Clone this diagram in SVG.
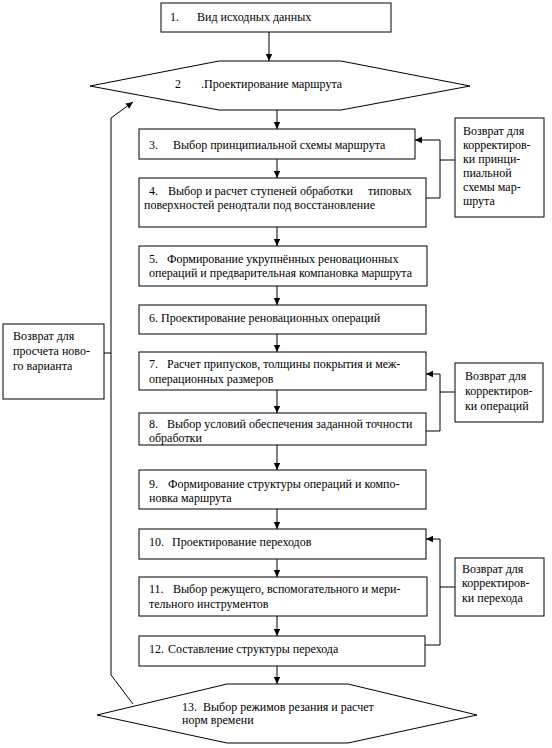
<svg xmlns="http://www.w3.org/2000/svg" width="552" height="748" viewBox="0 0 552 748">
<defs>
<marker id="ah" markerWidth="8" markerHeight="8" refX="7" refY="4" orient="auto" markerUnits="userSpaceOnUse">
<path d="M0,0.8 L7,4 L0,7.2 Z" fill="#000"/>
</marker>
<style>
.b{fill:#fff;stroke:#000;stroke-width:1}
.t{font-family:"Liberation Serif","Times New Roman",serif;font-size:12px;fill:#000}
.c{fill:none;stroke:#000;stroke-width:1}
.a{fill:none;stroke:#000;stroke-width:1;marker-end:url(#ah)}
</style>
</defs>
<rect width="552" height="748" fill="#fff"/>
<g id="connectors">
<line class="a" x1="269" y1="32" x2="269" y2="61"/>
<line class="a" x1="277" y1="110" x2="277" y2="129"/>
<line class="a" x1="277" y1="159" x2="277" y2="178"/>
<line class="a" x1="277" y1="227" x2="277" y2="246"/>
<line class="a" x1="277" y1="286" x2="277" y2="305"/>
<line class="a" x1="277" y1="334" x2="277" y2="352"/>
<line class="a" x1="277" y1="390" x2="277" y2="413"/>
<line class="a" x1="277" y1="445" x2="277" y2="470"/>
<line class="a" x1="277" y1="509" x2="277" y2="529"/>
<line class="a" x1="277" y1="559" x2="277" y2="577"/>
<line class="a" x1="277" y1="616" x2="277" y2="636"/>
<line class="a" x1="277" y1="666" x2="277" y2="684"/>
<polyline class="c" points="455,160 440,160"/>
<polyline class="c" points="426,198 440,198 440,140"/>
<line class="a" x1="440" y1="140" x2="415" y2="140"/>
<polyline class="c" points="455,392 440,392"/>
<polyline class="c" points="426,431 440,431 440,374"/>
<line class="a" x1="440" y1="374" x2="426" y2="374"/>
<polyline class="c" points="455,587 440,587"/>
<polyline class="c" points="425,645 440,645 440,539"/>
<line class="a" x1="440" y1="539" x2="426" y2="539"/>
<polyline class="c" points="104,353 111,353"/>
<polyline class="c" points="133,704 111,675 111,118"/>
<line class="a" x1="111" y1="118" x2="133" y2="102"/>
</g>
<g id="n1">
<rect class="b" x="161" y="3" width="230" height="29"/>
<text class="t" x="170" y="21">1.</text>
<text class="t" x="197" y="21">Вид исходных данных</text>
</g>
<g id="n2">
<polygon class="b" points="90,86 219,61 341,61 470,86 341,110 219,110"/>
<text class="t" x="175" y="88">2</text>
<text class="t" x="201" y="88">.Проектирование маршрута</text>
</g>
<g id="n3">
<rect class="b" x="139" y="129" width="276" height="30"/>
<text class="t" x="149" y="149">3.</text>
<text class="t" x="173" y="149">Выбор принципиальной схемы маршрута</text>
</g>
<g id="n4">
<rect class="b" x="139" y="178" width="287" height="49"/>
<text class="t" x="149" y="195">4.</text>
<text class="t" x="168" y="195">Выбор и расчет ступеней обработки</text>
<text class="t" x="368" y="195">типовых</text>
<text class="t" x="144" y="209">поверхностей ренодтали под восстановление</text>
</g>
<g id="n5">
<rect class="b" x="139" y="246" width="288" height="40"/>
<text class="t" x="149" y="263">5.</text>
<text class="t" x="167" y="263">Формирование укрупнённых реновационных</text>
<text class="t" x="149" y="277">операций и предварительная компановка маршрута</text>
</g>
<g id="n6">
<rect class="b" x="139" y="305" width="287" height="29"/>
<text class="t" x="149" y="322">6.  Проектирование реновационных операций</text>
</g>
<g id="n7">
<rect class="b" x="139" y="352" width="287" height="38"/>
<text class="t" x="149" y="368">7.</text>
<text class="t" x="167" y="368">Расчет припусков, толщины покрытия и меж-</text>
<text class="t" x="149" y="383">операционных размеров</text>
</g>
<g id="n8">
<rect class="b" x="139" y="413" width="287" height="32"/>
<text class="t" x="149" y="428">8.</text>
<text class="t" x="167" y="428">Выбор условий обеспечения заданной точности</text>
<text class="t" x="149" y="442">обработки</text>
</g>
<g id="n9">
<rect class="b" x="139" y="470" width="287" height="39"/>
<text class="t" x="149" y="488">9.</text>
<text class="t" x="168" y="488">Формирование структуры операций и компо-</text>
<text class="t" x="149" y="502">новка маршрута</text>
</g>
<g id="n10">
<rect class="b" x="139" y="529" width="287" height="30"/>
<text class="t" x="149" y="546">10.</text>
<text class="t" x="172" y="546">Проектирование переходов</text>
</g>
<g id="n11">
<rect class="b" x="139" y="577" width="288" height="39"/>
<text class="t" x="149" y="593">11.</text>
<text class="t" x="173" y="593">Выбор режущего, вспомогательного и мери-</text>
<text class="t" x="149" y="608">тельного инструментов</text>
</g>
<g id="n12">
<rect class="b" x="139" y="636" width="286" height="30"/>
<text class="t" x="149" y="653">12.</text>
<text class="t" x="168" y="653">Составление структуры перехода</text>
</g>
<g id="n13">
<polygon class="b" points="97,715 227,684 348,684 477,715 348,743 227,743"/>
<text class="t" x="182" y="711">13.</text>
<text class="t" x="203" y="711">Выбор режимов резания и расчет</text>
<text class="t" x="182" y="724">норм времени</text>
</g>
<g id="r1">
<rect class="b" x="455" y="118" width="89" height="99"/>
<text class="t" x="463" y="135">Возврат для</text>
<text class="t" x="463" y="149">корректиров-</text>
<text class="t" x="463" y="163">ки принци-</text>
<text class="t" x="463" y="177">пиальной</text>
<text class="t" x="463" y="191">схемы мар-</text>
<text class="t" x="463" y="205">шрута</text>
</g>
<g id="r2">
<rect class="b" x="455" y="363" width="88" height="59"/>
<text class="t" x="465" y="380">Возврат для</text>
<text class="t" x="465" y="395">корректиров-</text>
<text class="t" x="465" y="410">ки операций</text>
</g>
<g id="r3">
<rect class="b" x="455" y="558" width="89" height="58"/>
<text class="t" x="462" y="573">Возврат для</text>
<text class="t" x="462" y="587">корректиров-</text>
<text class="t" x="462" y="602">ки перехода</text>
</g>
<g id="r0">
<rect class="b" x="3" y="324" width="101" height="75"/>
<text class="t" x="13" y="340">Возврат для</text>
<text class="t" x="13" y="355">просчета ново-</text>
<text class="t" x="13" y="370">го варианта</text>
</g>
</svg>
